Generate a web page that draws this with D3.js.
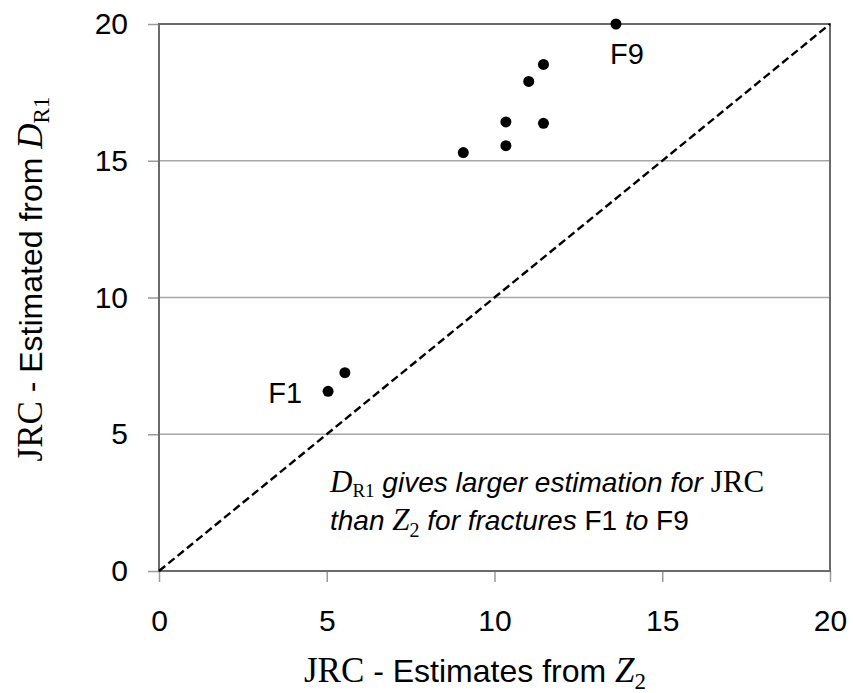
<!DOCTYPE html>
<html>
<head>
<meta charset="utf-8">
<script src="https://cdn.jsdelivr.net/npm/d3@7/dist/d3.min.js"></script>
<style>
  html, body { margin: 0; padding: 0; background: #fff; }
  svg { display: block; }
  .sans { font-family: Arial, "Liberation Sans", sans-serif; }
  .serif { font-family: "Times New Roman", "Liberation Serif", serif; }
</style>
</head>
<body>
<svg id="chart" width="853" height="693"></svg>
<script>
// Fracture JRC estimates: Z2 method (x) vs D_R1 method (y)
const fractures = ["F1", "F2", "F3", "F4", "F5", "F6", "F7", "F8", "F9"];
const jrcZ2  = [5.04, 5.54, 9.07, 10.34, 10.34, 11.46, 11.02, 11.46, 13.62];
const jrcDR1 = [6.57, 7.25, 15.30, 15.55, 16.42, 16.37, 17.90, 18.52, 20.0];
const xTicks = [0, 5, 10, 15, 20];
const yTicks = [0, 5, 10, 15, 20];
const labelled = ["F1", "F9"];

const svg = d3.select("#chart");
const margin = { left: 159, right: 23, top: 24, bottom: 122 };
const W = 853, H = 693;

const x = d3.scaleLinear().domain([0, 20]).range([margin.left, W - margin.right]);
const y = d3.scaleLinear().domain([0, 20]).range([H - margin.bottom, margin.top]);

// horizontal gridlines
svg.append("g")
  .selectAll("line")
  .data(yTicks.filter(d => d > 0 && d < 20))
  .join("line")
  .attr("x1", x(0)).attr("x2", x(20))
  .attr("y1", d => y(d)).attr("y2", d => y(d))
  .attr("stroke", "#a6a6a6").attr("stroke-width", 1.3);

// axes with outward ticks
const xAxis = svg.append("g")
  .attr("transform", `translate(0,${y(0)})`)
  .call(d3.axisBottom(x).tickValues(xTicks).tickSize(11).tickPadding(28).tickFormat(d3.format("d")));
const yAxis = svg.append("g")
  .attr("transform", `translate(${x(0)},0)`)
  .call(d3.axisLeft(y).tickValues(yTicks).tickSize(11).tickPadding(20).tickFormat(d3.format("d")));

[xAxis, yAxis].forEach(g => {
  g.select(".domain").remove();
  g.selectAll(".tick line").attr("stroke", "#9a9a9a").attr("stroke-width", 1.5);
  g.selectAll(".tick text")
    .attr("class", "sans")
    .attr("font-size", 30)
    .attr("fill", "#000");
});
xAxis.selectAll(".tick text").attr("dy", "0.71em");

// plot area border
svg.append("rect")
  .attr("x", x(0)).attr("y", y(20))
  .attr("width", x(20) - x(0)).attr("height", y(0) - y(20))
  .attr("fill", "none").attr("stroke", "#6b6b6b").attr("stroke-width", 2);

// 1:1 reference line
svg.append("line")
  .attr("x1", x(0)).attr("y1", y(0))
  .attr("x2", x(20)).attr("y2", y(20))
  .attr("stroke", "#000").attr("stroke-width", 2.4)
  .attr("stroke-dasharray", "8,4");

// data points
const pts = fractures.map((f, i) => ({ f, xv: jrcZ2[i], yv: jrcDR1[i] }));
svg.append("g")
  .selectAll("circle")
  .data(pts)
  .join("circle")
  .attr("cx", d => x(d.xv)).attr("cy", d => y(d.yv))
  .attr("r", 5.5).attr("fill", "#000");

// point labels
svg.append("g")
  .selectAll("text")
  .data(pts.filter(d => labelled.includes(d.f)))
  .join("text")
  .attr("class", "sans")
  .attr("font-size", 29)
  .attr("fill", "#000")
  .attr("x", d => d.f === "F1" ? x(d.xv) - 26 : x(d.xv) + 11)
  .attr("y", d => d.f === "F1" ? y(d.yv) + 12 : y(d.yv) + 40)
  .attr("text-anchor", d => d.f === "F1" ? "end" : "middle")
  .text(d => d.f);

// annotation
const note = svg.append("g").attr("fill", "#000");
const l1 = note.append("text").attr("x", 330).attr("y", 492).attr("font-size", 28);
l1.append("tspan").attr("class", "serif").attr("font-style", "italic").attr("font-size", 31).text("D");
l1.append("tspan").attr("class", "serif").attr("font-size", 19).attr("dy", 5).text("R1");
l1.append("tspan").attr("class", "sans").attr("font-style", "italic").attr("dy", -5).text(" gives larger estimation for ");
l1.append("tspan").attr("class", "serif").attr("font-size", 31).text("JRC");

const l2 = note.append("text").attr("x", 330).attr("y", 530).attr("font-size", 28);
l2.append("tspan").attr("class", "sans").attr("font-style", "italic").text("than ");
l2.append("tspan").attr("class", "serif").attr("font-style", "italic").attr("font-size", 31).text("Z");
l2.append("tspan").attr("class", "serif").attr("font-size", 20).attr("dy", 7).text("2");
l2.append("tspan").attr("class", "sans").attr("font-style", "italic").attr("dy", -7).text(" for fractures ");
l2.append("tspan").attr("class", "sans").text("F1");
l2.append("tspan").attr("class", "sans").attr("font-style", "italic").text(" to ");
l2.append("tspan").attr("class", "sans").text("F9");

// x-axis title
const xt = svg.append("text")
  .attr("x", 475).attr("y", 682)
  .attr("text-anchor", "middle").attr("fill", "#000").attr("font-size", 32);
xt.append("tspan").attr("class", "serif").attr("font-size", 35).text("JRC");
xt.append("tspan").attr("class", "sans").text(" - Estimates from ");
xt.append("tspan").attr("class", "serif").attr("font-style", "italic").attr("font-size", 35).text("Z");
xt.append("tspan").attr("class", "serif").attr("font-size", 23).attr("dy", 7).text("2");

// y-axis title
const yt = svg.append("text")
  .attr("transform", `translate(42,279) rotate(-90)`)
  .attr("text-anchor", "middle").attr("fill", "#000").attr("font-size", 32);
yt.append("tspan").attr("class", "serif").attr("font-size", 35).text("JRC");
yt.append("tspan").attr("class", "sans").text(" - Estimated from ");
yt.append("tspan").attr("class", "serif").attr("font-style", "italic").attr("font-size", 35).text("D");
yt.append("tspan").attr("class", "serif").attr("font-size", 23).attr("dy", 7).text("R1");
</script>
</body>
</html>
